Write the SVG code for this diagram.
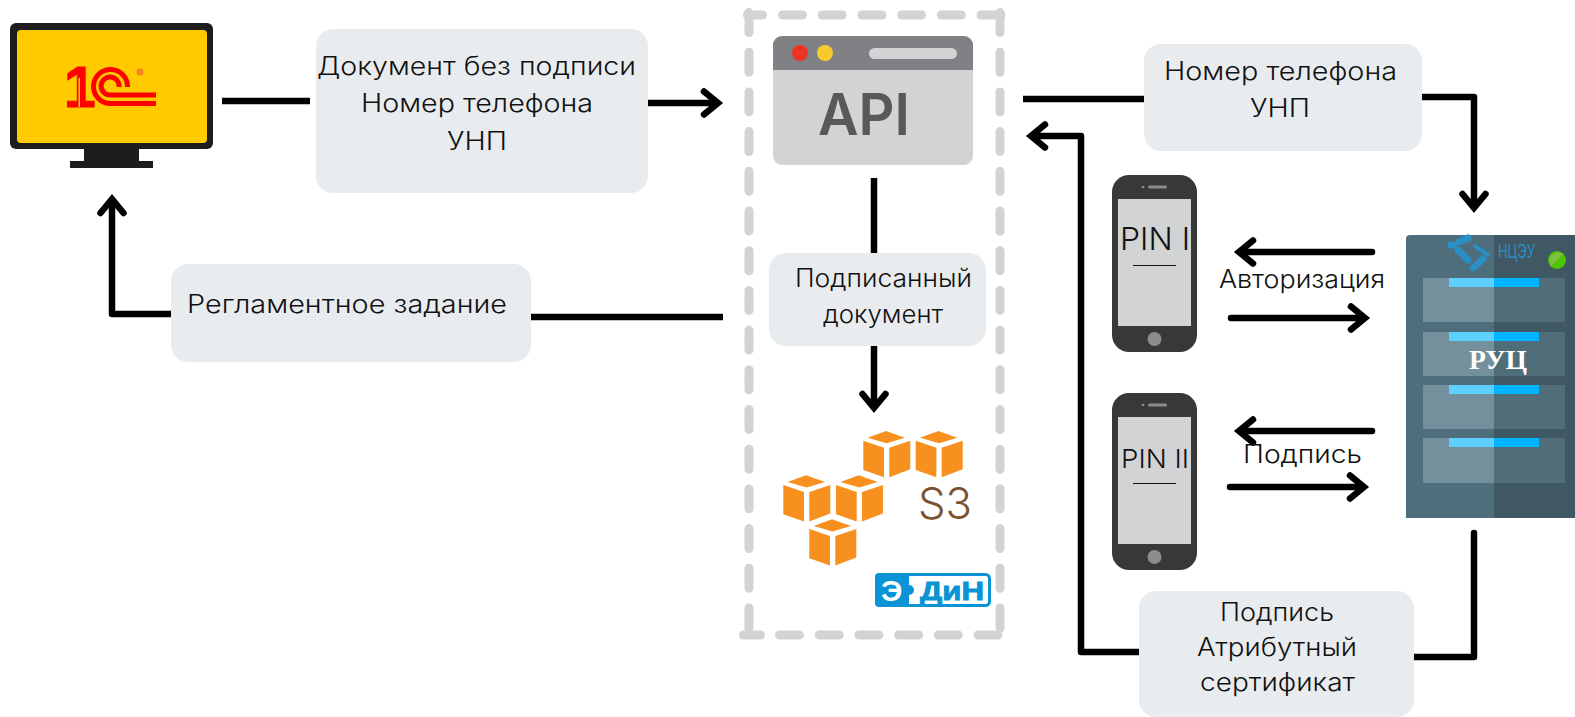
<svg xmlns="http://www.w3.org/2000/svg" xmlns:xlink="http://www.w3.org/1999/xlink" width="1575" height="717" viewBox="0 0 1575 717">
<style>
.box{fill:#e9ecef}
.t{font-family:"Inter","Noto Sans","Liberation Sans",sans-serif;font-size:25px;font-weight:300;fill:#111}
.c{fill:none;stroke:#000;stroke-width:6.5;stroke-linecap:butt}
.r{stroke-linecap:round;stroke-linejoin:round}
.a{marker-end:url(#arrow)}
.dash{fill:none;stroke:#d1d3d4;stroke-width:9;stroke-linecap:round}
.d{stroke-dasharray:20 19.7}
.ph{fill:#373938}
.scr{fill:#d1d3d4}
.pl{fill:#74909d}.pr{fill:#4f6e7a}.bl{fill:#5dd0ff}.br{fill:#00b4ff}
.cube{fill:#f7901e}
.nc{fill:none;stroke:#2a8fc4;stroke-width:7;stroke-linecap:round}
</style>
<defs>
<marker id="arrow" markerUnits="userSpaceOnUse" markerWidth="40" markerHeight="40" refX="18" refY="20" orient="auto" viewBox="0 0 40 40"><path d="M6 8.500L20 20L6 31.500" fill="none" stroke="#000" stroke-width="6.500" stroke-linecap="round" stroke-linejoin="miter"/></marker>
<g id="cb"><path class="cube" d="M0 9.700L20.700 16.700V46.300L0 39Z"/><path class="cube" d="M26 16.700L47 9.700V38.300L26 46.300Z"/><path class="cube" d="M4.300 6.700L22.700 0L41.700 6.700L23.300 12.300Z"/></g>
<g id="phone"><rect class="ph" x="1112" y="0" width="85" height="177" rx="17"/><rect class="scr" x="1118" y="24" width="73" height="127"/><circle cx="1154.500" cy="164" r="7" fill="#8a8c8e"/><rect x="1148" y="10.500" width="19" height="3" rx="1.500" fill="#8a8c8e"/><circle cx="1143" cy="12" r="1.300" fill="#8a8c8e"/><rect x="1133" y="90" width="43" height="1" fill="#111"/></g>
</defs>
<rect width="1575" height="717" fill="#fff"/>

<g id="connectors">
<path class="c" d="M222 101H310"/>
<path class="c a" d="M648 103H716"/>
<path class="c" d="M531 317H723"/>
<path class="c r a" d="M172 314H112V201"/>
<path class="c" d="M874 178V253"/>
<path class="c r a" d="M874 342V406"/>
<path class="c" d="M1023 99H1144"/>
<path class="c r a" d="M1423 97H1474V206"/>
<path class="c r a" d="M1140 652H1081V136H1033"/>
<path class="c r" d="M1412 657H1474V533"/>
<path class="c r a" d="M1372 252H1241"/>
<path class="c r a" d="M1231 318H1363"/>
<path class="c r a" d="M1372 431H1241"/>
<path class="c r a" d="M1230 487H1362"/>
</g>

<g id="node-1c">
<rect x="10" y="23" width="203" height="126" rx="6" fill="#1d1d1b"/>
<rect x="17" y="30" width="190" height="113" rx="4" fill="#ffcb00"/>
<rect x="84" y="149" width="55" height="12" fill="#1d1d1b"/>
<rect x="70" y="161" width="83" height="7" fill="#1d1d1b"/>
<text x="64" y="107" font-family="Liberation Sans,sans-serif" font-weight="700" font-size="57" fill="#f00" stroke="#f00" stroke-width="1">1</text>
<rect x="78.500" y="78" width="1.500" height="29" fill="#ffcb00"/>
<path d="M127.500 87A17 17 0 1 0 110.500 103.500H156M119 87A9 9 0 1 0 110 95H156" fill="none" stroke="#f00" stroke-width="5"/>
<circle cx="140" cy="72" r="3.200" fill="#f58220" stroke="#f58220" stroke-width=".8"/>
</g>

<g id="node-doc">
<rect class="box" x="316" y="29" width="332" height="164" rx="17"/>
<text class="t" x="317" y="75" textLength="319" lengthAdjust="spacingAndGlyphs">Документ без подписи</text>
<text class="t" x="361" y="112" textLength="232" lengthAdjust="spacingAndGlyphs">Номер телефона</text>
<text class="t" x="447" y="150" textLength="60" lengthAdjust="spacingAndGlyphs">УНП</text>
</g>

<g id="node-task">
<rect class="box" x="171" y="264" width="360" height="98" rx="17"/>
<text class="t" x="187" y="313" textLength="320" lengthAdjust="spacingAndGlyphs">Регламентное задание</text>
</g>

<g id="node-storage">
<path class="dash" d="M747.500 15H762.500"/>
<path class="dash d" d="M782.500 15H1001"/>
<path class="dash d" d="M749 12.500V628"/>
<path class="dash d" d="M1000 12.500V628"/>
<path class="dash" d="M743.500 635H760.500"/>
<path class="dash d" d="M779.500 635H999"/>
</g>

<g id="node-api">
<rect x="773" y="36" width="200" height="129" rx="9" fill="#d1d3d4"/>
<path d="M773 70V45a9 9 0 0 1 9-9H964a9 9 0 0 1 9 9V70Z" fill="#808184"/>
<circle cx="800" cy="53" r="8" fill="#ee3524"/>
<circle cx="825" cy="53" r="8" fill="#f9ca2c"/>
<rect x="869" y="48" width="88" height="11" rx="5.500" fill="#d1d3d4"/>
<text x="818" y="135" font-family="Inter,Open Sans,sans-serif" font-weight="600" font-size="58" fill="#58595b" textLength="92" lengthAdjust="spacingAndGlyphs">API</text>
</g>

<g id="node-signed">
<rect class="box" x="769" y="253" width="217" height="93" rx="17"/>
<text class="t" x="795" y="287" textLength="177" lengthAdjust="spacingAndGlyphs">Подписанный</text>
<text class="t" x="823" y="323" textLength="120" lengthAdjust="spacingAndGlyphs">документ</text>
</g>

<g id="node-s3">
<use xlink:href="#cb" x="863.300" y="431"/>
<use xlink:href="#cb" x="915.700" y="431"/>
<use xlink:href="#cb" x="783.300" y="475.300"/>
<use xlink:href="#cb" x="836" y="475.300"/>
<use xlink:href="#cb" x="809.300" y="519.300"/>
<text x="918" y="519" font-family="Inter,Lato,sans-serif" font-weight="300" font-size="43" fill="#7a5230" textLength="54" lengthAdjust="spacingAndGlyphs">S3</text>
</g>

<g id="node-edin">
<rect x="876.500" y="574.500" width="113" height="31" rx="4" fill="#fff" stroke="#0a93d5" stroke-width="3"/>
<path d="M879 573H909V585a4 4 0 0 1 0 10V607H879a4 4 0 0 1-4-4V577a4 4 0 0 1 4-4Z" fill="#0a93d5"/>
<text x="881" y="601" font-family="Liberation Sans,sans-serif" font-weight="700" font-size="30" fill="#fff">Э</text>
<text x="920" y="600" font-family="Liberation Sans,sans-serif" font-weight="700" font-size="25" fill="#0a93d5" stroke="#0a93d5" stroke-width=".8" textLength="64" lengthAdjust="spacingAndGlyphs">ДиН</text>
</g>

<g id="node-number">
<rect class="box" x="1144" y="44" width="278" height="107" rx="17"/>
<text class="t" x="1164" y="80" textLength="233" lengthAdjust="spacingAndGlyphs">Номер телефона</text>
<text class="t" x="1250" y="117" textLength="60" lengthAdjust="spacingAndGlyphs">УНП</text>
</g>

<g id="node-phone1">
<use xlink:href="#phone" y="175"/>
<text class="t" x="1120" y="250" style="font-size:31px;font-weight:300" textLength="70" lengthAdjust="spacingAndGlyphs">PIN I</text>
</g>
<text id="label-auth" class="t" x="1219" y="288" textLength="166" lengthAdjust="spacingAndGlyphs">Авторизация</text>

<g id="node-phone2">
<use xlink:href="#phone" y="393"/>
<text class="t" x="1121" y="468" style="font-size:26px;font-weight:300" textLength="68" lengthAdjust="spacingAndGlyphs">PIN II</text>
</g>
<text id="label-sign" class="t" x="1243" y="463" textLength="119" lengthAdjust="spacingAndGlyphs">Подпись</text>

<g id="node-ruc">
<path d="M1410 235H1494V518H1406V239a4 4 0 0 1 4-4Z" fill="#4f6e7c"/>
<rect x="1494" y="235" width="81" height="283" fill="#3f5864"/>
<rect class="pl" x="1423" y="278" width="71" height="44"/><rect class="pr" x="1494" y="278" width="71" height="44"/>
<rect class="pl" x="1423" y="332" width="71" height="44"/><rect class="pr" x="1494" y="332" width="71" height="44"/>
<rect class="pl" x="1423" y="385" width="71" height="44"/><rect class="pr" x="1494" y="385" width="71" height="44"/>
<rect class="pl" x="1423" y="438" width="71" height="45"/><rect class="pr" x="1494" y="438" width="71" height="45"/>
<rect class="bl" x="1449" y="278" width="45" height="9"/><rect class="br" x="1494" y="278" width="45" height="9"/>
<rect class="bl" x="1449" y="332" width="45" height="9"/><rect class="br" x="1494" y="332" width="45" height="9"/>
<rect class="bl" x="1449" y="385" width="45" height="9"/><rect class="br" x="1494" y="385" width="45" height="9"/>
<rect class="bl" x="1449" y="438" width="45" height="9"/><rect class="br" x="1494" y="438" width="45" height="9"/>
<path class="nc" d="M1451 245H1453M1459 242L1468 238M1458 250L1468 260M1473 268L1483 259"/>
<path class="nc" style="stroke-width:4" d="M1475 246L1488 255"/>
<text x="1498" y="258" font-family="Liberation Sans,sans-serif" font-size="21" fill="#2a8fc4" textLength="37" lengthAdjust="spacingAndGlyphs">НЦЭУ</text>
<circle cx="1557" cy="260" r="9" fill="#4ec300"/>
<path d="M1551 266.500A9 9 0 0 1 1563.500 254Z" fill="#7fbf3f"/>
<text x="1469" y="369" font-family="Liberation Serif,serif" font-weight="700" font-size="27" fill="#fff" textLength="58" lengthAdjust="spacingAndGlyphs">РУЦ</text>
</g>

<g id="node-sign">
<rect class="box" x="1139" y="591" width="275" height="126" rx="17"/>
<text class="t" x="1220" y="621" textLength="114" lengthAdjust="spacingAndGlyphs">Подпись</text>
<text class="t" x="1197" y="656" textLength="160" lengthAdjust="spacingAndGlyphs">Атрибутный</text>
<text class="t" x="1200" y="691" textLength="155" lengthAdjust="spacingAndGlyphs">сертификат</text>
</g>
</svg>
